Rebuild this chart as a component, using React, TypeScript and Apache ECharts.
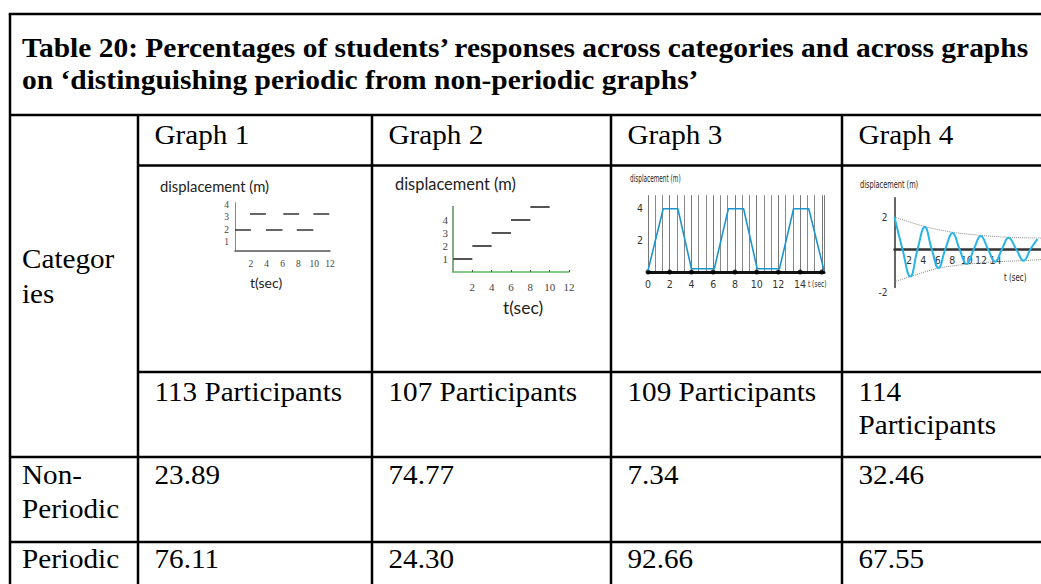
import React, { useEffect, useRef } from 'react';
import * as echarts from 'echarts';

// ---------- table data ----------
const titleLines = [
  'Table 20: Percentages of students’ responses across categories and across graphs',
  'on ‘distinguishing periodic from non-periodic graphs’',
];
const categoryLabel = 'Categor\nies';
const graphNames = ['Graph 1', 'Graph 2', 'Graph 3', 'Graph 4'];
const participants = [113, 107, 109, 114];
const rowLabels = ['Non-\nPeriodic', 'Periodic'];
const nonPeriodic = [23.89, 74.77, 7.34, 32.46];
const periodic = [76.11, 24.3, 92.66, 67.55];

// ---------- mini graph data ----------
const axisTitle = 'displacement (m)';
// graph 1: [tStart, tEnd, displacement]
const g1Segments = [
  [0, 2.0, 2], [3.9, 6.0, 2], [7.8, 9.9, 2],
  [1.9, 3.9, 3.3], [6.1, 8.1, 3.3], [9.9, 11.9, 3.3],
];
const g1XTicks = [2, 4, 6, 8, 10, 12];
const g1YTicks = [1, 2, 3, 4];
// graph 2
const g2Segments = [
  [0, 2, 1], [2, 4, 2], [4, 6, 3], [6, 8, 4], [8, 10, 5],
];
const g2XTicks = [2, 4, 6, 8, 10, 12];
const g2YTicks = [1, 2, 3, 4];
// graph 3
const g3Line = [
  [0, 0.1], [1.4, 3.95], [2.75, 3.95], [4, 0.2], [6.1, 0.2], [7.4, 3.95],
  [8.8, 3.95], [10.05, 0.2], [12.1, 0.2], [13.4, 3.95], [14.8, 3.95], [16.2, 0.1],
];
const g3Dots = [[0, 0], [2, 0], [4, 0], [6, 0], [8, 0], [10, 0], [12, 0], [14, 0], [16, 0]];
const g3XTicks = [0, 2, 4, 6, 8, 10, 12, 14];
const g3YTicks = [2, 4];
// graph 4
const g4Wave = [
  [0, 2], [1.1, 0], [2.2, -1.72], [3.2, 0], [4.2, 1.37], [5.15, 0], [6.1, -1.19],
  [7.05, 0], [8.05, 1.0], [9.0, 0], [10.0, -0.94], [11.0, 0], [11.95, 0.81],
  [12.95, 0], [13.95, -0.79], [14.9, 0], [15.8, 0.7], [16.85, 0], [17.9, -0.73],
  [18.85, 0], [19.8, 0.62],
];
const g4Upper = [[0, 2], [4.2, 1.4], [8, 1.05], [12, 0.85], [16, 0.73], [20.3, 0.68]];
const g4Lower = [[0, -2.05], [2.2, -1.72], [6.1, -1.2], [10.1, -0.95], [14, -0.8], [18, -0.72], [20.3, -0.66]];
const g4XTicks = [2, 4, 6, 8, 10, 12, 14];
const g4YTicks = [-2, 2];

// ---------- layout ----------
const W = 1041;
const H = 584;
const colX = [10, 138, 372, 611, 842, W];
const rowY = [14, 115, 165.5, 372, 457, 542, H];
const SERIF = '"Liberation Serif", "Times New Roman", serif';
const SANS = 'Lato, "Liberation Sans", sans-serif';
const NARROW = '"Liberation Sans Narrow", "DejaVu Sans Condensed", "Liberation Sans", sans-serif';
const STRETCH = 1.08;

function txt(x: number, baseline: number, text: string, fs: number, opts: any = {}) {
  const lh = opts.lineHeight ?? Math.round(fs * 1.2);
  return {
    type: 'text',
    x,
    y: baseline - lh / 2 - 0.34 * fs,
    silent: true,
    scaleX: opts.scaleX ?? 1,
    style: {
      text,
      fontSize: fs,
      fontFamily: opts.fontFamily ?? SERIF,
      fontWeight: opts.fontWeight ?? 'normal',
      fill: opts.fill ?? '#000',
      align: 'left',
      verticalAlign: 'top',
      lineHeight: lh,
    },
  };
}

function hline(y: number, x1: number, x2: number) {
  return { type: 'line', silent: true, shape: { x1, y1: y, x2, y2: y }, style: { stroke: '#000', lineWidth: 2.5 } };
}
function vline(x: number, y1: number, y2: number) {
  return { type: 'line', silent: true, shape: { x1: x, y1, x2: x, y2 }, style: { stroke: '#000', lineWidth: 2.5 } };
}

function buildOption() {
  const g: any[] = [];
  // table borders
  g.push(hline(rowY[0], colX[0] - 1.25, W));
  g.push(vline(colX[0], rowY[0], H));
  g.push(hline(rowY[1], colX[0], W));
  g.push(hline(rowY[2], colX[1], W));
  g.push(hline(rowY[3], colX[1], W));
  g.push(hline(rowY[4], colX[0], W));
  g.push(hline(rowY[5], colX[0], W));
  for (let i = 1; i <= 4; i++) g.push(vline(colX[i], rowY[1], H));

  // title
  g.push(txt(22, 57, titleLines[0], 27, { fontWeight: 'bold', scaleX: 1.092 }));
  g.push(txt(22, 89, titleLines[1], 27, { fontWeight: 'bold', scaleX: 1.092 }));

  const FS = 27;
  const s = { scaleX: STRETCH };
  g.push(txt(22, 268, categoryLabel, FS, { lineHeight: 35, ...s }));
  graphNames.forEach((name, i) => {
    const x = colX[i + 1] + 16.5;
    g.push(txt(x, 144, name, FS, s));
    const p = i === 3 ? `${participants[i]}\nParticipants` : `${participants[i]} Participants`;
    g.push(txt(x, 401, p, FS, { lineHeight: 33, ...s }));
    g.push(txt(x, 484, nonPeriodic[i].toFixed(2), FS, s));
    g.push(txt(x, 568, periodic[i].toFixed(2), FS, s));
  });
  g.push(txt(22, 484, rowLabels[0], FS, { lineHeight: 34, ...s }));
  g.push(txt(22, 568, rowLabels[1], FS, s));

  // mini-graph captions
  g.push(txt(160, 191, axisTitle, 14.8, { fontFamily: SANS, fill: '#222' }));
  g.push(txt(250, 287, 't(sec)', 14, { fontFamily: SANS, fill: '#222' }));
  g.push(txt(395, 189, axisTitle, 16.4, { fontFamily: SANS, fill: '#222' }));
  g.push(txt(503, 313, 't(sec)', 17.5, { fontFamily: SANS, fill: '#222' }));
  g.push(txt(630, 182, axisTitle, 10, { fontFamily: NARROW, fill: '#222', scaleX: 0.64 }));
  g.push(txt(808, 287, 't (sec)', 9.5, { fontFamily: NARROW, fill: '#222', scaleX: 0.68 }));
  g.push(txt(860, 188, axisTitle, 10.5, { fontFamily: NARROW, fill: '#222', scaleX: 0.7 }));
  g.push(txt(1004, 281, 't (sec)', 10.5, { fontFamily: NARROW, fill: '#222', scaleX: 0.75 }));

  const grids = [
    { left: 235, top: 202.6, width: 95, height: 48.4 },
    { left: 453, top: 206.5, width: 116, height: 65.5 },
    { left: 648, top: 195.2, width: 176, height: 76.8 },
    { left: 894.5, top: 197.8, width: 146.5, height: 89.6 },
  ].map((r) => ({ ...r, containLabel: false, outerBoundsMode: 'none', show: false }));

  const tickFont = (extra: any = {}) => ({ fontFamily: SERIF, fontSize: 9.5, color: '#444', ...extra });
  const noSplit = { show: false };

  const xAxis: any[] = [
    {
      gridIndex: 0, type: 'value', min: 0, max: 12,
      axisLine: { show: true, onZero: false, lineStyle: { color: '#555', width: 1.5 } },
      axisTick: { show: false }, splitLine: noSplit,
      axisLabel: { customValues: g1XTicks, margin: 8, ...tickFont() },
    },
    {
      gridIndex: 1, type: 'value', min: 0, max: 12,
      axisLine: { show: true, onZero: false, lineStyle: { color: '#5cb85c', width: 1.5 } },
      axisTick: { show: true, customValues: g2XTicks, inside: true, length: 2, lineStyle: { color: '#555' } },
      splitLine: noSplit,
      axisLabel: { customValues: g2XTicks, margin: 9, ...tickFont({ fontSize: 11 }) },
    },
    {
      gridIndex: 2, type: 'value', min: 0, max: 16.2, interval: 2,
      axisLine: { show: true, onZero: false, lineStyle: { color: '#111', width: 3 } },
      axisTick: { show: false },
      minorTick: { show: false, splitNumber: 3 },
      splitLine: { show: true, lineStyle: { color: '#777', width: 1 } },
      minorSplitLine: { show: true, lineStyle: { color: '#888', width: 1 } },
      axisLabel: { customValues: g3XTicks, margin: 6, fontFamily: NARROW, fontSize: 10.5, color: '#333' },
    },
    {
      gridIndex: 3, type: 'value', min: 0, max: 20.3, offset: -38.4,
      axisLine: { show: true, onZero: false, lineStyle: { color: '#333', width: 2.5 } },
      axisTick: { show: false }, splitLine: noSplit,
      axisLabel: { customValues: g4XTicks, margin: 5, fontFamily: NARROW, fontSize: 10.5, color: '#333' },
    },
  ];
  const yAxis: any[] = [
    {
      gridIndex: 0, type: 'value', min: 0.25, max: 4.2,
      axisLine: { show: true, onZero: false, lineStyle: { color: '#888', width: 1 } },
      axisTick: { show: false }, splitLine: noSplit,
      axisLabel: { customValues: g1YTicks, margin: 6, ...tickFont() },
    },
    {
      gridIndex: 1, type: 'value', min: 0, max: 5,
      axisLine: { show: true, onZero: false, lineStyle: { color: '#5a8f5a', width: 1.5 } },
      axisTick: { show: false }, splitLine: noSplit,
      axisLabel: { customValues: g2YTicks, margin: 5, ...tickFont({ fontSize: 11 }) },
    },
    {
      gridIndex: 2, type: 'value', min: 0, max: 4.8,
      axisLine: { show: false }, axisTick: { show: false }, splitLine: noSplit,
      axisLabel: { customValues: g3YTicks, margin: 5, fontFamily: NARROW, fontSize: 10.5, color: '#333' },
    },
    {
      gridIndex: 3, type: 'value', min: -2.4, max: 3.2,
      axisLine: { show: true, onZero: false, lineStyle: { color: '#333', width: 1.5 } },
      axisTick: { show: false }, splitLine: noSplit,
      axisLabel: {
        customValues: g4YTicks, margin: 7, fontFamily: NARROW, fontSize: 10, color: '#333',
        formatter: (v: number) => (v < 0 ? `{lo|${v}}` : `${v}`),
        rich: { lo: { padding: [22, 0, 0, 0], fontFamily: NARROW, fontSize: 10, color: '#333' } },
      },
    },
  ];

  const segs = (sg: number[][]) => sg.map(([a, b, y]) => ({ coords: [[a, y], [b, y]] }));

  const series: any[] = [
    {
      type: 'lines', coordinateSystem: 'cartesian2d', xAxisIndex: 0, yAxisIndex: 0,
      data: segs(g1Segments), silent: true,
      lineStyle: { color: '#333', width: 1.5, opacity: 1 },
    },
    {
      type: 'lines', coordinateSystem: 'cartesian2d', xAxisIndex: 1, yAxisIndex: 1,
      data: segs(g2Segments), silent: true,
      lineStyle: { color: '#555', width: 2, opacity: 1 },
    },
    {
      type: 'line', xAxisIndex: 2, yAxisIndex: 2, data: g3Line, symbol: 'none', silent: true,
      lineStyle: { color: '#1b95d2', width: 1.6 },
    },
    {
      type: 'scatter', xAxisIndex: 2, yAxisIndex: 2, data: g3Dots, symbolSize: 5, silent: true,
      itemStyle: { color: '#000' },
    },
    {
      type: 'line', xAxisIndex: 3, yAxisIndex: 3, data: g4Upper, symbol: 'none', smooth: 0.3, silent: true,
      lineStyle: { color: '#888', width: 1, type: 'dotted' },
    },
    {
      type: 'line', xAxisIndex: 3, yAxisIndex: 3, data: g4Lower, symbol: 'none', smooth: 0.3, silent: true,
      lineStyle: { color: '#888', width: 1, type: 'dotted' },
    },
    {
      type: 'line', xAxisIndex: 3, yAxisIndex: 3, data: g4Wave, symbol: 'none', smooth: 0.45, silent: true,
      lineStyle: { color: '#27b4ea', width: 2 },
    },
  ];

  return {
    animation: false,
    backgroundColor: '#fff',
    grid: grids,
    xAxis,
    yAxis,
    series,
    graphic: { elements: g },
  };
}

export default function App() {
  const ref = useRef<HTMLDivElement>(null);
  useEffect(() => {
    document.body.style.margin = '0';
    const chart = echarts.init(ref.current as HTMLDivElement, undefined, { renderer: 'svg' });
    chart.setOption(buildOption() as any);
    return () => chart.dispose();
  }, []);
  return <div ref={ref} style={{ width: W, height: H }} />;
}
